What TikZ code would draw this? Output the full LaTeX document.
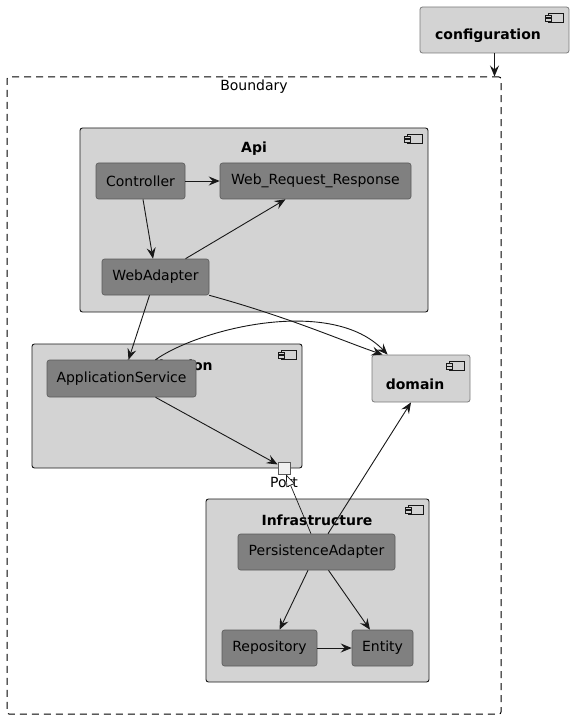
\documentclass[tikz,border=0pt]{standalone}
\usepackage{fontspec}
\setmainfont{DejaVu Sans}
\usetikzlibrary{arrows.meta,calc}
\definecolor{contfill}{HTML}{D3D3D3}
\definecolor{innerfill}{HTML}{808080}
\definecolor{innerdraw}{HTML}{5A5A5A}
\definecolor{linecol}{HTML}{181818}
\definecolor{portfill}{HTML}{F1F1F1}
\tikzset{
  boundarybox/.style={draw=black, line width=1pt, dash pattern=on 7pt off 5pt, rounded corners=2pt, inner sep=0pt},
  container/.style={draw=linecol, line width=0.9pt, fill=contfill, rounded corners=2.5pt, inner sep=0pt},
  topcomp/.style={draw=innerdraw!80, line width=0.8pt, fill=contfill, rounded corners=2.5pt, inner sep=0pt},
  inner/.style={draw=innerdraw, line width=0.6pt, fill=innerfill, rounded corners=2.5pt, inner sep=0pt, minimum height=36pt, font=\fontsize{14}{16}\selectfont, text=black},
  boldlbl/.style={inner sep=0pt, font=\fontsize{14}{16}\selectfont\bfseries, text=black},
  lbl/.style={inner sep=0pt, font=\fontsize{14}{16}\selectfont, text=black},
  conn/.style={draw=linecol, line width=0.9pt, -{Stealth[length=11pt,width=9pt,inset=4pt]}},
  realize/.style={draw=linecol, line width=0.7pt, -{Triangle[open,length=12pt,width=9pt,fill=white]}},
  compicon/.pic={
    \draw[draw=linecol, line width=0.6pt, fill=contfill] (-21,7) rectangle (-6,16);
    \draw[draw=linecol, line width=0.6pt, fill=contfill] (-24,8.8) rectangle (-18,11.2);
    \draw[draw=linecol, line width=0.6pt, fill=contfill] (-24,12) rectangle (-18,14.4);
  }
}
\begin{document}
\begin{tikzpicture}[x=1pt,y=-1pt]
\useasboundingbox (0,0) rectangle (572,719);

% boundary
\node[boundarybox, minimum width=494pt, minimum height=637pt] (boundary) at (254,395.5) {};
\node[lbl] (boundarylbl) at (254,87) {Boundary};

% configuration
\node[topcomp, minimum width=149pt, minimum height=46pt] (config) at (494.5,30) {};
\pic at (config.north east) {compicon};
\node[boldlbl] (configlbl) at (488,36) {configuration};

% Api
\node[container, minimum width=348pt, minimum height=184pt] (api) at (254,220) {};
\pic at (api.north east) {compicon};
\node[boldlbl] (apilbl) at (254,149) {Api};
\node[inner, minimum width=89pt] (ctrl) at (140.5,181) {Controller};
\node[inner, minimum width=191pt] (wrr) at (315.5,181) {Web\_Request\_Response};
\node[inner, minimum width=107pt] (webad) at (155.5,277) {WebAdapter};

% Application
\node[container, minimum width=270pt, minimum height=124pt] (app) at (167,406) {};
\pic at (app.north east) {compicon};
\node[boldlbl] (applbl) at (168,367) {Application};
\node[inner, minimum width=149pt, minimum height=37pt] (appsvc) at (121.5,378.5) {ApplicationService};
\node[draw=innerdraw, line width=0.8pt, fill=portfill, minimum size=12pt, inner sep=0pt] (port) at (284,468) {};
\node[lbl] (portlbl) at (284,482) {Port};

% domain
\node[topcomp, minimum width=98pt, minimum height=47pt] (domain) at (421,378.5) {};
\pic at (domain.north east) {compicon};
\node[boldlbl] (domainlbl) at (415,384) {domain};

% Infrastructure
\node[container, minimum width=223pt, minimum height=183pt] (infra) at (317.5,590.5) {};
\pic at (infra.north east) {compicon};
\node[boldlbl] (infralbl) at (317,520) {Infrastructure};
\node[inner, minimum width=157pt] (persad) at (316.5,552) {PersistenceAdapter};
\node[inner, minimum width=95pt] (repo) at (269.5,648) {Repository};
\node[inner, minimum width=61pt] (entity) at (382.5,648) {Entity};

% connectors
\draw[conn] (config.south) -- (config.south |- boundary.north);
\draw[conn] (ctrl.east) -- (wrr.west);
\draw[conn] ([xshift=2.5pt]ctrl.south) -- ([xshift=-2.5pt]webad.north);
\draw[conn] ([xshift=30pt]webad.north) -- ([xshift=-30pt]wrr.south);
\draw[conn] ([xshift=-6pt]webad.south) -- ([xshift=7pt]appsvc.north);
\draw[conn] (webad.south east) .. controls ($(webad.south east)+(80,22)$) and ($(domain.north west)+(-30,-14)$) .. ([xshift=11pt]domain.north west);
\draw[conn] ([xshift=34pt]appsvc.north) .. controls ($(appsvc.north)+(80,-32)$) and ($(domain.north west)+(-40,-58)$) .. ([xshift=16pt]domain.north west);
\draw[conn] ([xshift=34pt]appsvc.south) -- (port);
\draw[realize] ([xshift=-5.5pt]persad.north) -- ([xshift=2pt]port.south);
\draw[conn] ([xshift=11.5pt]persad.north) -- ([xshift=-10pt]domain.south);
\draw[conn] ([xshift=-8.5pt]persad.south) -- ([xshift=10pt]repo.north);
\draw[conn] ([xshift=12pt]persad.south) -- ([xshift=-12.5pt]entity.north);
\draw[conn] (repo.east) -- (entity.west);
\end{tikzpicture}
\end{document}
